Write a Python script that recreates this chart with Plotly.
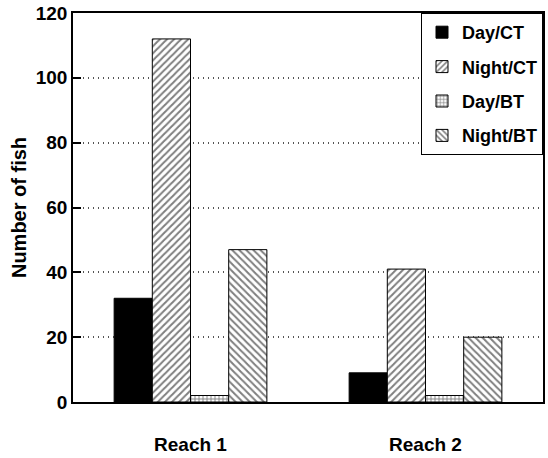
import plotly.graph_objects as go

categories = ["Reach 1", "Reach 2"]
series_names = ["Day/CT", "Night/CT", "Day/BT", "Night/BT"]
day_ct = [32, 9]
night_ct = [112, 41]
day_bt = [2, 2]
night_bt = [47, 20]
y_ticks = [0, 20, 40, 60, 80, 100, 120]

values = [day_ct, night_ct, day_bt, night_bt]
patterns = ["", "/", "+", "\\"]
pattern_sizes = [0, 5, 4, 5]
fills = ["black", "white", "white", "white"]

FONT = "Liberation Sans, Arial, Helvetica, sans-serif"

fig = go.Figure()
for name, vals, pat, psize, fill in zip(series_names, values, patterns, pattern_sizes, fills):
    marker = dict(color=fill, line=dict(color="black", width=1))
    if pat:
        marker["pattern"] = dict(shape=pat, fgcolor="black", bgcolor="white",
                                 size=psize, solidity=0.4)
    fig.add_trace(go.Bar(name=name, x=categories, y=vals, marker=marker,
                         legendgroup=name))

fig.update_layout(
    width=548, height=458,
    margin=dict(l=73, r=3, t=11, b=52),
    paper_bgcolor="white", plot_bgcolor="white",
    barmode="group", bargap=0.35, bargroupgap=0,
    font=dict(family=FONT, size=18, color="black", weight="bold"),
    showlegend=True,
    legend=dict(x=1, xanchor="right", y=1, yanchor="top",
                bordercolor="black", borderwidth=1, bgcolor="white",
                font=dict(family=FONT, size=18, color="black", weight="bold"),
                tracegroupgap=8, traceorder="grouped"),
    xaxis=dict(showline=True, linecolor="black", linewidth=1.5, mirror=True,
               ticks="", showgrid=False, range=[-0.5, 1.5],
               tickfont=dict(family=FONT, size=19, weight="bold"),
               ticklabelstandoff=24),
    yaxis=dict(range=[0, 120], tickvals=y_ticks, showline=True,
               linecolor="black", linewidth=1.5, mirror=True,
               ticks="inside", ticklen=8, tickcolor="black", tickwidth=1.5,
               showgrid=True, gridcolor="#555", griddash="1px,4px", gridwidth=1.5,
               zeroline=False,
               tickfont=dict(family=FONT, size=19, weight="bold"),
               title=dict(text="Number of fish", standoff=4,
                          font=dict(family=FONT, size=20, weight="bold"))),
)

fig.write_html("out.html")
